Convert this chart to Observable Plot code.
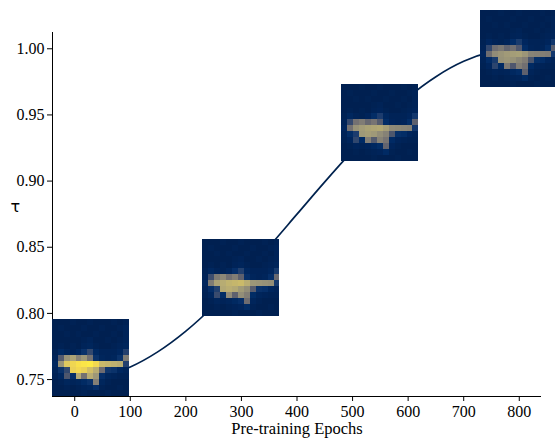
<!DOCTYPE html>
<html><head><meta charset="utf-8">
<script src="https://cdn.jsdelivr.net/npm/d3@7"></script>
<script src="https://cdn.jsdelivr.net/npm/@observablehq/plot@0.6"></script>
<style>
html,body{margin:0;padding:0;background:#fff;}
</style></head><body><div id="chart"></div>
<script>
// ---- data ----
const epochs = [0,50,100,150,200,250,300,350,400,450,500,550,600,650,700,750,800];
const tau = [0.7500,0.7524,0.7595,0.7711,0.7866,0.8056,0.8272,0.8506,0.8750,0.8994,0.9228,0.9444,0.9634,0.9789,0.9905,0.9976,1.0000];
const thumbEpochs = [29, 300, 550, 800];
const thumbTau = [0.766, 0.827, 0.944, 1.0];
const thumbContrast = [1.0, 0.8, 0.72, 0.68];
const planeGrid = [
  [0.00,0.00,0.00,0.01,0.00,0.00,0.01,0.00,0.00,0.00,0.01,0.00,0.01],
  [0.00,0.01,0.00,0.00,0.00,0.01,0.00,0.00,0.01,0.00,0.00,0.01,0.02],
  [0.00,0.00,0.01,0.00,0.01,0.00,0.00,0.01,0.00,0.00,0.01,0.00,0.02],
  [0.00,0.00,0.00,0.00,0.00,0.01,0.02,0.00,0.00,0.01,0.00,0.01,0.02],
  [0.00,0.01,0.00,0.01,0.00,0.02,0.03,0.01,0.00,0.00,0.01,0.02,0.03],
  [0.01,0.05,0.02,0.01,0.03,0.10,0.22,0.05,0.02,0.02,0.02,0.04,0.18],
  [0.02,0.32,0.62,0.70,0.55,0.64,0.45,0.10,0.03,0.02,0.03,0.10,0.50],
  [0.04,0.62,0.86,0.92,0.96,0.98,1.00,0.93,0.80,0.78,0.76,0.74,0.18],
  [0.02,0.10,0.22,0.90,0.93,0.90,0.82,0.74,0.42,0.12,0.10,0.04,0.02],
  [0.01,0.04,0.30,0.08,0.72,0.45,0.74,0.64,0.08,0.03,0.02,0.01,0.01],
  [0.00,0.01,0.03,0.02,0.03,0.06,0.10,0.52,0.03,0.01,0.00,0.00,0.00],
  [0.00,0.00,0.01,0.00,0.01,0.02,0.03,0.08,0.01,0.00,0.00,0.01,0.00],
  [0.00,0.00,0.00,0.00,0.00,0.01,0.00,0.00,0.00,0.01,0.00,0.00,0.00]
];
const xTicks = [0,100,200,300,400,500,600,700,800];
const yTicks = [0.75,0.80,0.85,0.90,0.95,1.00];
const xLabel = "Pre-training Epochs";
const yLabel = "τ";

// ---- layout ----
const W = 555, H = 438;
const margin = {top: 32, right: 14, bottom: 42, left: 52};
const xDomain = [-40, 840];
const yDomain = [0.7372, 1.0123];
const thumbPx = 77;
const xPerPx = (xDomain[1]-xDomain[0])/(W - margin.left - margin.right);
const yPerPx = (yDomain[1]-yDomain[0])/(H - margin.top - margin.bottom);
const tw = thumbPx*xPerPx, th = thumbPx*yPerPx;
const n = planeGrid.length;

const lineData = epochs.map((e,i) => ({e, t: tau[i]}));
const cells = [];
thumbEpochs.forEach((ex, k) => {
  const left = ex - tw/2, top = thumbTau[k] + th/2;
  cells.push({x1: left, x2: left + tw, y1: top - th, y2: top, v: 0});
  planeGrid.forEach((row, r) => row.forEach((v, c) => {
    cells.push({
      x1: left + c*tw/n, x2: left + (c+1)*tw/n,
      y1: top - (r+1)*th/n, y2: top - r*th/n,
      v: v*thumbContrast[k]
    });
  }));
});

const serif = "'Liberation Serif', 'Times New Roman', Times, serif";
const chart = Plot.plot({
  width: W, height: H,
  marginTop: margin.top, marginRight: margin.right, marginBottom: margin.bottom, marginLeft: margin.left,
  x: {domain: xDomain},
  y: {domain: yDomain},
  color: {type: "linear", scheme: "cividis", domain: [0, 1]},
  style: {"font-family": serif, "font-size": "15px", "background": "white", "color": "black"},
  marks: [
    Plot.ruleX([xDomain[0]], {stroke: "black", strokeWidth: 1}),
    Plot.ruleY([yDomain[0]], {stroke: "black", strokeWidth: 1}),
    Plot.axisX({ticks: xTicks, tickSize: 5, tickPadding: 4, label: null, fontSize: 16, fontFamily: serif}),
    Plot.axisY({ticks: yTicks, tickFormat: d3.format(".2f"), tickSize: 5, tickPadding: 3, label: null, fontSize: 16, fontFamily: serif}),
    Plot.line(lineData, {x: "e", y: "t", stroke: "#00224e", strokeWidth: 1.7, curve: "monotone-x"}),
    Plot.rect(cells, {x1: "x1", x2: "x2", y1: "y1", y2: "y2", fill: "v", shapeRendering: "crispEdges"}),
    Plot.text([xLabel], {frameAnchor: "bottom", dy: 32, lineAnchor: "middle", fontSize: 16.5, fill: "black", fontFamily: serif}),
    Plot.text([yLabel], {frameAnchor: "left", dx: -42, dy: -8, lineAnchor: "middle", fontSize: 16, fill: "black", fontFamily: "'DejaVu Sans', sans-serif"})
  ]
});
document.getElementById("chart").appendChild(chart);
</script>
</body></html>
